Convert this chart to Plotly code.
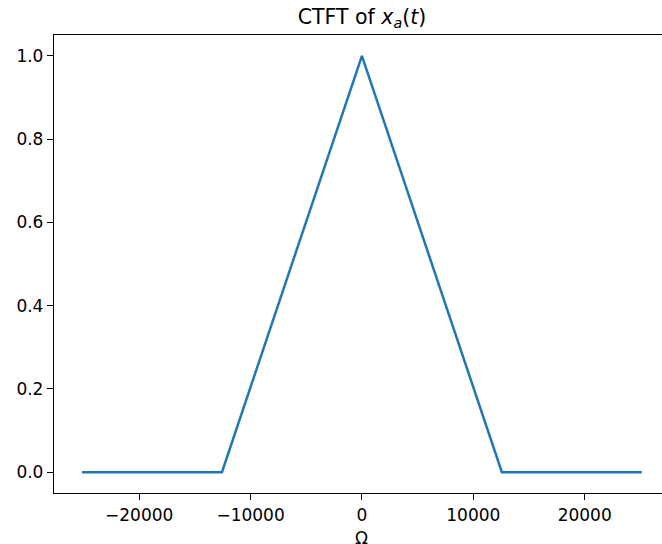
import plotly.graph_objects as go

# Data (Ω in rad/s, magnitude of CTFT)
omega = [-25133, -12566, 0, 12566, 25133]
magnitude = [0.0, 0.0, 1.0, 0.0, 0.0]
x_ticks = [-20000, -10000, 0, 10000, 20000]
x_tick_labels = ["\u221220000", "\u221210000", "0", "10000", "20000"]
y_ticks = [0.0, 0.2, 0.4, 0.6, 0.8, 1.0]
y_tick_labels = ["0.0", "0.2", "0.4", "0.6", "0.8", "1.0"]

W, H = 662, 544
PLOT_TOP, PLOT_BOTTOM = 35, 493

fig = go.Figure()
fig.add_trace(go.Scatter(x=omega, y=magnitude, mode="lines",
                         line=dict(color="#1f77b4", width=2.5), showlegend=False))

font_family = "DejaVu Sans"
fig.update_layout(
    width=W, height=H,
    margin=dict(l=54, r=0, t=PLOT_TOP, b=H - PLOT_BOTTOM),
    paper_bgcolor="white", plot_bgcolor="white",
    font=dict(family=font_family, size=17, color="black"),
    title=dict(text="CTFT of <i>x</i><sub><i>a</i></sub>(<i>t</i>)",
               x=362 / W, xanchor="center", y=1 - 17 / H, yanchor="middle",
               font=dict(family=font_family, size=20.5, color="black")),
)
# x-axis title "Ω" as an annotation so it can sit at the very bottom edge
fig.add_annotation(text="\u03a9", x=0, xref="x", xanchor="center",
                   y=-(538 - PLOT_BOTTOM) / (PLOT_BOTTOM - PLOT_TOP), yref="paper",
                   yanchor="middle", showarrow=False,
                   font=dict(family=font_family, size=17, color="black"))
fig.update_xaxes(
    range=[-27646, 26942], tickvals=x_ticks, ticktext=x_tick_labels,
    ticks="outside", ticklen=6, tickwidth=1.3, tickcolor="black",
    showline=True, linecolor="black", linewidth=1.3, mirror=True,
    showgrid=False, zeroline=False, automargin=False,
)
fig.update_yaxes(
    range=[-0.05, 1.05], tickvals=y_ticks, ticktext=y_tick_labels,
    ticks="outside", ticklen=6, tickwidth=1.3, tickcolor="black",
    showline=True, linecolor="black", linewidth=1.3, mirror=False,
    showgrid=False, zeroline=False, automargin=False,
)

fig.write_html(
    "out.html",
    config={"displayModeBar": False},
    post_script="document.body.style.margin='0';document.body.style.overflow='hidden';",
)
